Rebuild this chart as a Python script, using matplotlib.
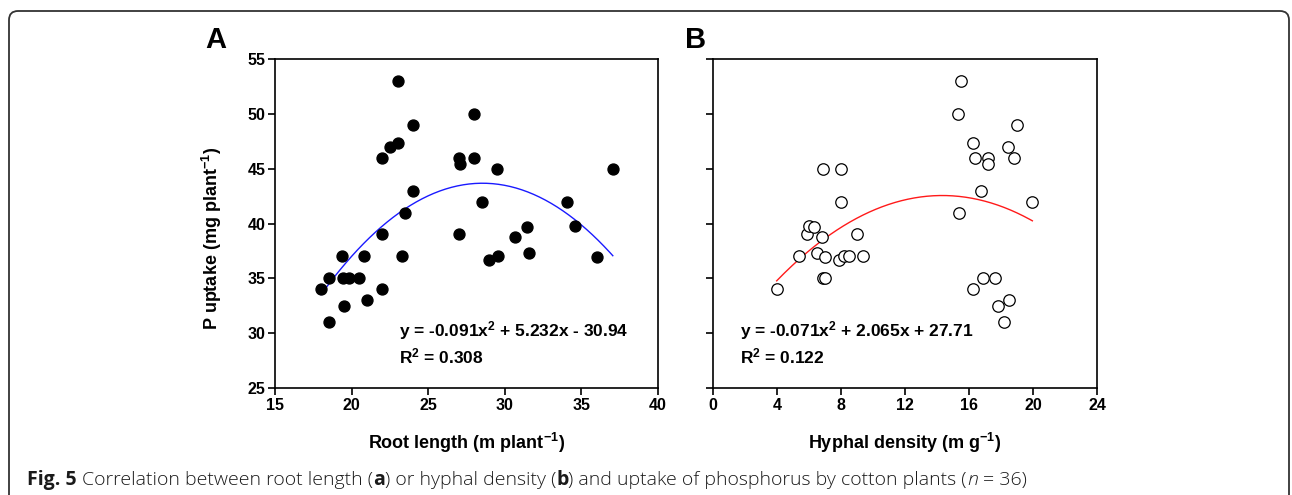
import numpy as np
import matplotlib
matplotlib.use("Agg")
import matplotlib.pyplot as plt
from matplotlib.patches import FancyBboxPatch
from matplotlib.transforms import IdentityTransform

# Panel A: root length vs P uptake
root_length = [18.0, 18.5, 18.5, 19.4, 19.45, 19.8, 19.5, 20.5, 20.8, 21.0,
               22.0, 22.0, 22.0, 22.5, 23.0, 23.0, 23.3, 23.5, 24.0, 24.0,
               27.0, 27.1, 27.0, 28.0, 28.0, 28.5, 29.0, 29.55, 29.5, 30.65,
               31.45, 31.55, 34.05, 34.55, 36.05, 37.05]
p_uptake_a = [34.0, 35.0, 31.0, 37.0, 35.0, 35.0, 32.5, 35.0, 37.0, 33.0,
              46.0, 39.0, 34.0, 47.0, 47.3, 53.0, 37.0, 41.0, 49.0, 43.0,
              46.0, 45.4, 39.0, 50.0, 46.0, 42.0, 36.7, 37.0, 45.0, 38.8,
              39.7, 37.3, 42.0, 39.8, 36.9, 45.0]

# Panel B: hyphal density vs P uptake
hyphal_density = [3.98, 5.4, 5.9, 6.0, 6.3, 6.5, 6.8, 6.9, 6.9, 7.0,
                  7.0, 7.9, 8.2, 8.5, 8.0, 8.0, 9.0, 9.4, 15.3, 15.5,
                  15.4, 16.25, 16.35, 16.25, 16.75, 16.9, 17.2, 17.2, 17.6, 17.8,
                  18.2, 18.5, 18.45, 18.8, 19.0, 19.96]
p_uptake_b = [34.0, 37.0, 39.0, 39.8, 39.7, 37.3, 38.8, 45.0, 35.0, 35.0,
              36.9, 36.7, 37.0, 37.0, 45.0, 42.0, 39.0, 37.0, 50.0, 53.0,
              41.0, 47.3, 46.0, 34.0, 43.0, 35.0, 46.0, 45.4, 35.0, 32.5,
              31.0, 33.0, 47.0, 46.0, 49.0, 42.0]

eq_a = ("y = -0.091x$^{2}$ + 5.232x - 30.94", "R$^{2}$ = 0.308")
eq_b = ("y = -0.071x$^{2}$ + 2.065x + 27.71", "R$^{2}$ = 0.122")

W, H = 1292, 495
plt.rcParams["font.family"] = "Liberation Sans"
plt.rcParams["font.weight"] = "bold"
plt.rcParams["mathtext.fontset"] = "custom"
plt.rcParams["mathtext.rm"] = "Liberation Sans:bold"
plt.rcParams["mathtext.bf"] = "Liberation Sans:bold"
plt.rcParams["mathtext.it"] = "Liberation Sans:bold"

fig = plt.figure(figsize=(W / 100, H / 100), dpi=100)


def px_axes(l, r, t, b):
    return fig.add_axes([l / W, 1 - b / H, (r - l) / W, (b - t) / H])


def style(ax):
    for s in ax.spines.values():
        s.set_linewidth(1.2)
    ax.tick_params(direction="out", length=5, width=1.2, labelsize=11.5,
                   top=False, right=False, pad=2)
    for lab in ax.get_xticklabels() + ax.get_yticklabels():
        lab.set_fontweight("bold")


ax_a = px_axes(275, 658, 59, 388)
ax_b = px_axes(713, 1097, 59, 388)

# A
ax_a.scatter(root_length, p_uptake_a, s=62, color="black", zorder=3)
xs = np.linspace(min(root_length), max(root_length), 200)
ax_a.plot(xs, np.polyval(np.polyfit(root_length, p_uptake_a, 2), xs),
          color="#1a1aff", lw=1.0)
ax_a.set_xlim(15, 40)
ax_a.set_ylim(25, 55)
ax_a.set_xticks(range(15, 41, 5))
ax_a.set_yticks(range(25, 56, 5))
ax_a.set_xlabel("Root length (m plant$^{-1}$)", fontsize=13, fontweight="bold",
                va="center")
ax_a.xaxis.set_label_coords(0.5, -55 / 329)
ax_a.set_ylabel("P uptake (mg plant$^{-1}$)", fontsize=13, fontweight="bold",
                va="center")
ax_a.yaxis.set_label_coords(-63 / 383, 0.453)
ax_a.text(23.1, 29.66, eq_a[0], fontsize=12.5, fontweight="bold")
ax_a.text(23.1, 27.2, eq_a[1], fontsize=12.5, fontweight="bold")
style(ax_a)

# B
ax_b.scatter(hyphal_density, p_uptake_b, s=68, facecolor="white",
             edgecolor="black", lw=0.9, zorder=3)
xs = np.linspace(min(hyphal_density), max(hyphal_density), 200)
ax_b.plot(xs, np.polyval(np.polyfit(hyphal_density, p_uptake_b, 2), xs),
          color="#ff1a1a", lw=1.0)
ax_b.set_xlim(0, 24)
ax_b.set_ylim(25, 55)
ax_b.set_xticks(range(0, 25, 4))
ax_b.set_yticks(range(25, 56, 5))
ax_b.set_yticklabels([])
ax_b.set_xlabel("Hyphal density (m g$^{-1}$)", fontsize=13, fontweight="bold",
                va="center")
ax_b.xaxis.set_label_coords(0.5, -55 / 329)
ax_b.text(1.7, 29.66, eq_b[0], fontsize=12.5, fontweight="bold")
ax_b.text(1.7, 27.2, eq_b[1], fontsize=12.5, fontweight="bold")
style(ax_b)

# panel letters
fig.text(216 / W, 1 - 40 / H, "A", fontsize=21, fontweight="bold",
         ha="center", va="center")
fig.text(696 / W, 1 - 40 / H, "B", fontsize=21, fontweight="bold",
         ha="center", va="center")

# outer rounded frame, open at the bottom
frame = FancyBboxPatch((9, -30), 1280, H - 11 + 30,
                       boxstyle="round,pad=0,rounding_size=9",
                       transform=IdentityTransform(), fill=False,
                       edgecolor="#333333", lw=1.3)
fig.add_artist(frame)

# caption with mixed weights
pieces = [("Fig. 5", "bold", "normal"),
          (" Correlation between root length (", "light", "normal"),
          ("a", "bold", "normal"),
          (") or hyphal density (", "light", "normal"),
          ("b", "bold", "normal"),
          (") and uptake of phosphorus by cotton plants (", "light", "normal"),
          ("n", "light", "italic"),
          (" = 36)", "light", "normal")]
cap_kw = dict(fontsize=14, family="Open Sans", color="#1a1a1a")
renderer = fig.canvas.get_renderer()
probe = fig.text(0, 0, "a a", **cap_kw)
w2 = probe.get_window_extent(renderer).width
probe.set_text("aa")
space_w = w2 - probe.get_window_extent(renderer).width
probe.remove()
x = 27
y = 1 - 480 / H
for txt, wt, st in pieces:
    lead = len(txt) - len(txt.lstrip(" "))
    trail = len(txt) - len(txt.rstrip(" "))
    x += lead * space_w
    t = fig.text(x / W, y, txt.strip(" "), fontweight=wt, style=st,
                 va="center", ha="left", **cap_kw)
    x += t.get_window_extent(renderer).width + trail * space_w

fig.savefig("out.png", dpi=100)
